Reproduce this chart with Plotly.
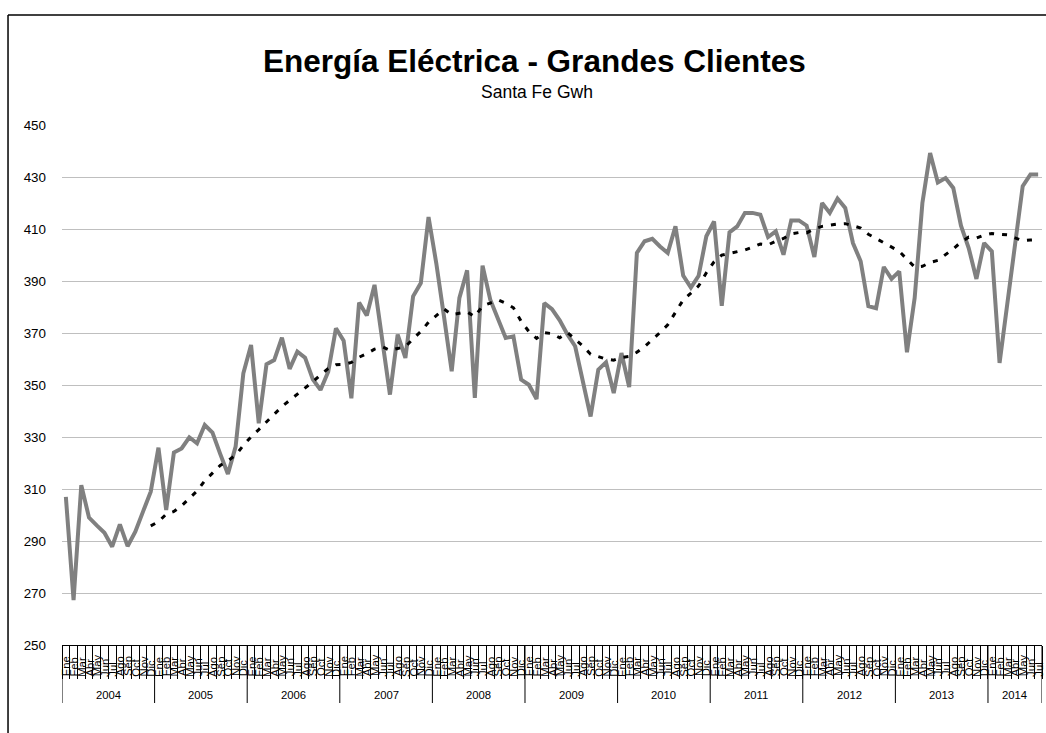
import plotly.graph_objects as go
import pandas as pd

# ---------------- data ----------------
month_names = ["Ene", "Feb", "Mar", "Abr", "May", "Jun", "Jul", "Ago", "Sep", "Oct", "Nov", "Dic"]
years = [2004, 2005, 2006, 2007, 2008, 2009, 2010, 2011, 2012, 2013, 2014]

v2004 = [307.0, 267.3, 311.5, 299.0, 296.0, 293.2, 287.8, 296.4, 288.0, 293.6, 301.3, 309.0]
v2005 = [325.9, 301.9, 324.0, 325.6, 329.9, 327.6, 334.6, 331.7, 323.5, 315.8, 326.3, 354.5]
v2006 = [365.4, 335.3, 358.0, 359.6, 368.2, 356.2, 362.8, 360.5, 352.2, 348.1, 355.1, 371.8]
v2007 = [367.0, 344.9, 381.7, 376.7, 388.5, 367.0, 346.3, 369.4, 360.4, 384.1, 389.2, 414.6]
v2008 = [396.9, 376.4, 355.3, 383.5, 394.1, 345.0, 395.9, 382.8, 375.1, 368.1, 368.7, 352.1]
v2009 = [350.1, 344.6, 381.5, 379.2, 374.9, 369.4, 364.9, 350.8, 337.9, 355.9, 358.7, 346.9]
v2010 = [362.3, 349.2, 400.8, 405.3, 406.2, 403.3, 400.8, 411.0, 392.1, 387.5, 392.0, 407.2]
v2011 = [412.9, 380.5, 408.7, 411.0, 416.2, 416.2, 415.5, 406.9, 409.1, 400.1, 413.3, 413.3]
v2012 = [411.3, 399.2, 420.0, 416.2, 421.7, 418.1, 404.6, 397.6, 380.3, 379.5, 395.4, 390.8]
v2013 = [393.7, 362.6, 383.5, 420.0, 439.2, 427.9, 429.6, 425.8, 411.3, 402.7, 390.8, 404.6]
v2014 = [401.4, 358.5, 381.0, 406.0, 426.5, 431.0, 431.0]

yearly_values = [v2004, v2005, v2006, v2007, v2008, v2009, v2010, v2011, v2012, v2013, v2014]

y_ticks = [250, 270, 290, 310, 330, 350, 370, 390, 410, 430, 450]

title_text = "Energía Eléctrica - Grandes Clientes"
subtitle_text = "Santa Fe Gwh"

# ---------------- build series ----------------
values, month_labels, year_of = [], [], []
for yr, vals in zip(years, yearly_values):
    for k, v in enumerate(vals):
        values.append(v)
        month_labels.append(month_names[k])
        year_of.append(yr)
idx = list(range(len(values)))

# 12-period moving average trendline (as in Excel)
ma12 = pd.Series(values).rolling(12).mean().tolist()

# ---------------- layout geometry ----------------
W, H = 1046, 733
L, R, T, B = 62, 3.6, 125, 88
plot_h = H - T - B
plot_w = W - L - R
FONT = "Arial, 'Liberation Sans', sans-serif"


def ypx(px):
    """pixel row -> paper y"""
    return (H - B - px) / plot_h


def xpx(px):
    return (px - L) / plot_w


fig = go.Figure()

fig.add_trace(go.Scatter(
    x=idx, y=values, mode="lines",
    line=dict(color="#808080", width=4),
    hoverinfo="y", showlegend=False,
))
fig.add_trace(go.Scatter(
    x=idx, y=ma12, mode="lines",
    line=dict(color="#000000", width=3, dash="5px,8px"),
    hoverinfo="skip", showlegend=False,
))

annotations = []
# title & subtitle
annotations.append(dict(text="<b>" + title_text + "</b>", xref="paper", yref="paper",
                        x=xpx(535), y=ypx(60.5), xanchor="center", yanchor="middle",
                        showarrow=False, font=dict(family=FONT, size=31.5, color="#000")))
annotations.append(dict(text=subtitle_text, xref="paper", yref="paper",
                        x=xpx(537), y=ypx(92), xanchor="center", yanchor="middle",
                        showarrow=False, font=dict(family=FONT, size=17.5, color="#000")))

# month labels (rotated, bottom aligned like Excel)
for i, m in zip(idx, month_labels):
    annotations.append(dict(text=m, xref="x", yref="paper", x=i, y=ypx(677.5),
                            xanchor="center", yanchor="bottom", textangle=-90,
                            showarrow=False, borderpad=0,
                            font=dict(family=FONT, size=11.3, color="#000")))

# year labels and separators
shapes = []
bounds = []
for yr in years:
    members = [i for i in idx if year_of[i] == yr]
    lo, hi = members[0] - 0.5, members[-1] + 0.5
    bounds.append(lo)
    annotations.append(dict(text=str(yr), xref="x", yref="paper", x=(lo + hi) / 2, y=ypx(695),
                            xanchor="center", yanchor="middle", showarrow=False,
                            font=dict(family=FONT, size=11.3, color="#000")))
bounds.append(idx[-1] + 0.5)
for b in bounds:
    shapes.append(dict(type="line", xref="x", yref="paper", x0=b, x1=b,
                       y0=0, y1=ypx(703), line=dict(color="#000", width=1)))

# chart-area border (left and top visible; rest cropped in the reference)
shapes.append(dict(type="line", xref="paper", yref="paper", x0=xpx(8), x1=xpx(8),
                   y0=ypx(15), y1=ypx(760), line=dict(color="#000", width=1.5)))
shapes.append(dict(type="line", xref="paper", yref="paper", x0=xpx(8), x1=xpx(1080),
                   y0=ypx(15), y1=ypx(15), line=dict(color="#000", width=1.5)))

fig.update_layout(
    width=W, height=H,
    margin=dict(l=L, r=R, t=T, b=B, pad=0),
    paper_bgcolor="white", plot_bgcolor="white",
    showlegend=False,
    font=dict(family=FONT, color="#000"),
    annotations=annotations,
    shapes=shapes,
    xaxis=dict(
        range=[-0.5, idx[-1] + 0.5], autorange=False,
        showticklabels=False, ticks="",
        showgrid=False, zeroline=False,
        showline=True, linecolor="#000", linewidth=1,
        minor=dict(tick0=-0.5, dtick=1, ticks="outside", ticklen=33,
                   tickcolor="#000", tickwidth=1, showgrid=False),
    ),
    yaxis=dict(
        range=[y_ticks[0], y_ticks[-1]], autorange=False,
        tickmode="array", tickvals=y_ticks, ticktext=[str(t) for t in y_ticks],
        showgrid=True, gridcolor="#bfbfbf", gridwidth=1,
        zeroline=False, showline=False, ticks="",
        ticklabelstandoff=15,
        tickfont=dict(family=FONT, size=13.4, color="#000"),
    ),
)

# remove the browser's default 8px page margin so the figure sits at (0, 0)
fig.write_html("out.html",
               config={"displayModeBar": False},
               post_script="document.body.style.margin='0px';document.body.style.overflow='hidden';")
